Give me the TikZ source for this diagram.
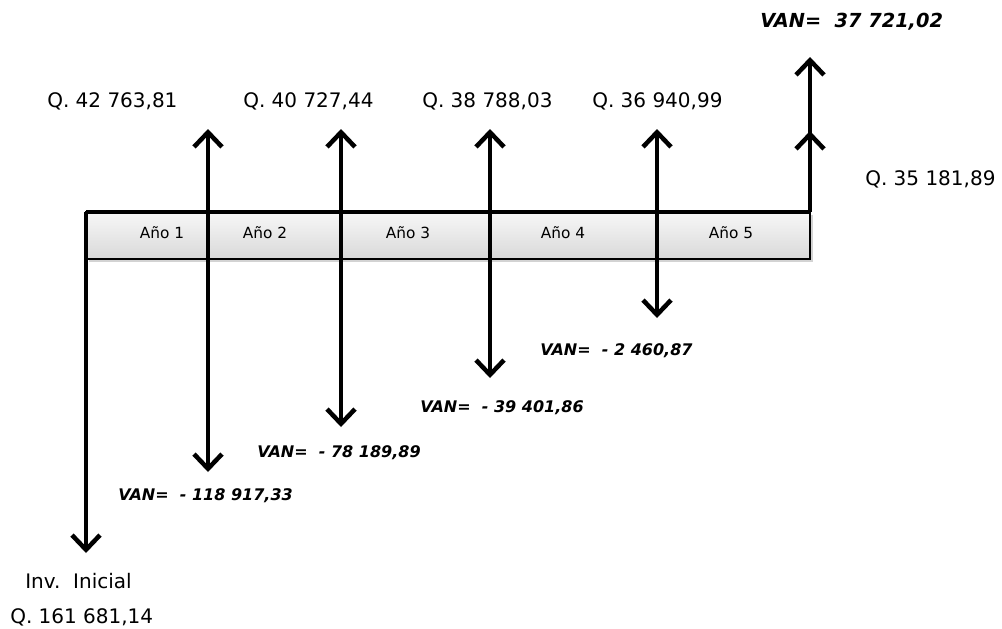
\documentclass[tikz,border=0pt]{standalone}
\usepackage{fontspec}
\setmainfont{DejaVu Sans}
\usetikzlibrary{arrows.meta,shadows}
\begin{document}
\begin{tikzpicture}[x=0.75pt,y=-0.75pt,
  flow/.style={line width=3.2pt,-{Straight Barb[length=11pt,width=21pt,line width=3.4pt]}},
  flowboth/.style={line width=3.2pt,{Straight Barb[length=11pt,width=21pt,line width=3.4pt]}-{Straight Barb[length=11pt,width=21pt,line width=3.4pt]}},
  qlabel/.style={anchor=base west,inner sep=0pt,font=\fontsize{15}{18}\selectfont},
  vanlabel/.style={anchor=base west,inner sep=0pt,font=\fontsize{12}{14}\selectfont\bfseries\itshape},
  yearlabel/.style={anchor=base,inner sep=0pt,font=\fontsize{11.5}{13}\selectfont},
  bar/.style={draw=black,line width=1.2pt,top color=gray!6,bottom color=gray!30,
    drop shadow={shadow xshift=2pt,shadow yshift=-2pt,opacity=0.35}}
]
\useasboundingbox (0,0) rectangle (1002,628);
% bar
\path[bar] (86,212) rectangle (810,259);
\coordinate (b0) at (86,212);
\coordinate (b5) at (810,212);
\draw[line width=2.4pt] (b0) -- (b5);
% year labels
\node[yearlabel] (y1) at (162,238) {Año 1};
\node[yearlabel] (y2) at (265,238) {Año 2};
\node[yearlabel] (y3) at (408,238) {Año 3};
\node[yearlabel] (y4) at (563,238) {Año 4};
\node[yearlabel] (y5) at (731,238) {Año 5};
% arrow endpoints
\coordinate (t1) at (208,129);
\coordinate (d1) at (208,472);
\coordinate (t2) at (341,129);
\coordinate (d2) at (341,427);
\coordinate (t3) at (490,129);
\coordinate (d3) at (490,378);
\coordinate (t4) at (657,129);
\coordinate (d4) at (657,318);
\coordinate (d0) at (86,553);
\coordinate (t5a) at (810,131);
\coordinate (t5b) at (810,57);
% arrows
\draw[flow] (b0) -- (d0);
\draw[flowboth] (d1) -- (t1);
\draw[flowboth] (d2) -- (t2);
\draw[flowboth] (d3) -- (t3);
\draw[flowboth] (d4) -- (t4);
\draw[flow] (b5) -- (t5b);
\draw[flow] (b5) -- (t5a);
% labels
\node[qlabel] (q1) at (47,107) {Q. 42 763,81};
\node[qlabel] (q2) at (243,107) {Q. 40 727,44};
\node[qlabel] (q3) at (422,107) {Q. 38 788,03};
\node[qlabel] (q4) at (592,107) {Q. 36 940,99};
\node[qlabel] (q5) at (865,185) {Q. 35 181,89};
\node[qlabel] (inv) at (25,588) {Inv.\ \ Inicial};
\node[qlabel] (q0) at (10,623) {Q. 161 681,14};
\node[vanlabel,font=\fontsize{14.5}{17}\selectfont\bfseries\itshape] (v5) at (760,27) {VAN=\ \ 37 721,02};
\node[vanlabel] (v4) at (540,355) {VAN=\ \ - 2 460,87};
\node[vanlabel] (v3) at (420,412) {VAN=\ \ - 39 401,86};
\node[vanlabel] (v2) at (257,457) {VAN=\ \ - 78 189,89};
\node[vanlabel] (v1) at (118,500) {VAN=\ \ - 118 917,33};
\end{tikzpicture}
\end{document}
